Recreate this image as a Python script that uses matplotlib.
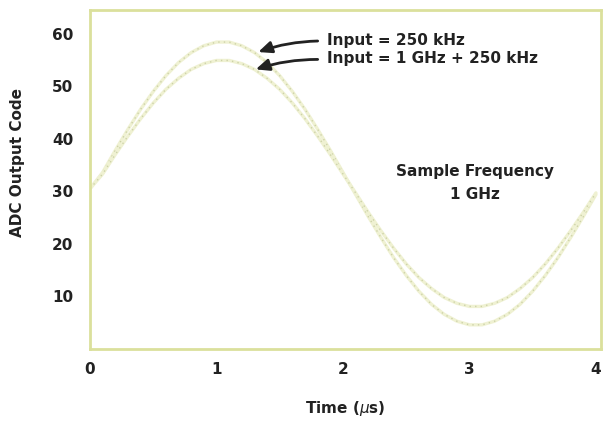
import matplotlib.pyplot as plt

plt.rcParams['font.family'] = ['DejaVu Sans']

# time in microseconds
t_us = [0.0, 0.1, 0.2, 0.3, 0.4, 0.5, 0.6, 0.7, 0.8, 0.9, 1.0,
        1.1, 1.2, 1.3, 1.4, 1.5, 1.6, 1.7, 1.8, 1.9, 2.0,
        2.1, 2.2, 2.3, 2.4, 2.5, 2.6, 2.7, 2.8, 2.9, 3.0,
        3.1, 3.2, 3.3, 3.4, 3.5, 3.6, 3.7, 3.8, 3.9, 4.0]
# Input = 250 kHz
code_250k = [30.5, 33.6, 37.8, 41.8, 45.6, 49.0, 52.0, 54.5, 56.4, 57.7, 58.4,
             58.4, 57.7, 56.4, 54.5, 52.0, 49.0, 45.6, 41.8, 37.8, 33.6,
             29.4, 25.2, 21.2, 17.4, 14.0, 11.0, 8.5, 6.6, 5.3, 4.6,
             4.6, 5.3, 6.6, 8.5, 11.0, 14.0, 17.4, 21.2, 25.2, 29.4]
# Input = 1 GHz + 250 kHz
code_1g = [30.5, 33.3, 37.0, 40.5, 43.8, 46.8, 49.4, 51.5, 53.2, 54.3, 54.9,
           54.9, 54.3, 53.2, 51.5, 49.4, 46.8, 43.8, 40.5, 37.0, 33.3,
           29.7, 26.0, 22.5, 19.2, 16.2, 13.6, 11.5, 9.8, 8.7, 8.1,
           8.1, 8.7, 9.8, 11.5, 13.6, 16.2, 19.2, 22.5, 26.0, 29.7]

xticks = [0, 1, 2, 3, 4]
yticks = [10, 20, 30, 40, 50, 60]

fs = 11
ink = '#222222'

fig = plt.figure(figsize=(6.03, 4.21), dpi=100)
ax = fig.add_axes([90 / 603, 72 / 421, 511 / 603, 339 / 421])

for vals in (code_250k, code_1g):
    ax.plot(t_us, vals, color='#eff1d2', lw=2.4, solid_capstyle='round')
    ax.plot(t_us, vals, color='#cdd2a8', lw=1.0, ls=(0, (1, 3)))

ax.set_xlim(0, 4.04)
ax.set_ylim(0, 64.5)
ax.set_xticks(xticks)
ax.set_yticks(yticks)
ax.tick_params(length=0, labelsize=fs)
ax.tick_params(axis='y', pad=12)
ax.tick_params(axis='x', pad=9)
for lab in ax.get_xticklabels() + ax.get_yticklabels():
    lab.set_fontweight('bold')
    lab.set_color(ink)

for sp in ax.spines.values():
    sp.set_color('#dbe09c')
    sp.set_linewidth(2)

ax.set_xlabel('Time ($\\mu$s)', fontsize=fs, fontweight='bold',
              color=ink, labelpad=16)
ax.set_ylabel('ADC Output Code', fontsize=fs, fontweight='bold', color=ink)
ax.yaxis.set_label_coords(-0.127, 0.55)

arrow = dict(arrowstyle='-|>,head_length=0.8,head_width=0.35', color=ink,
             lw=2, connectionstyle='arc3,rad=0.08', shrinkA=0, shrinkB=0)
ax.annotate('', xy=(1.33, 56.5), xytext=(1.80, 58.6), arrowprops=arrow)
ax.annotate('', xy=(1.31, 53.2), xytext=(1.80, 55.1), arrowprops=arrow)
ax.text(1.87, 58.7, 'Input = 250 kHz', fontsize=fs, fontweight='bold',
        color=ink, va='center', ha='left')
ax.text(1.87, 55.2, 'Input = 1 GHz + 250 kHz', fontsize=fs, fontweight='bold',
        color=ink, va='center', ha='left')

ax.text(3.04, 31.6, 'Sample Frequency\n1 GHz', fontsize=fs,
        fontweight='bold', color=ink, ha='center', va='center',
        linespacing=1.6)

fig.savefig('out.png', dpi=100)
